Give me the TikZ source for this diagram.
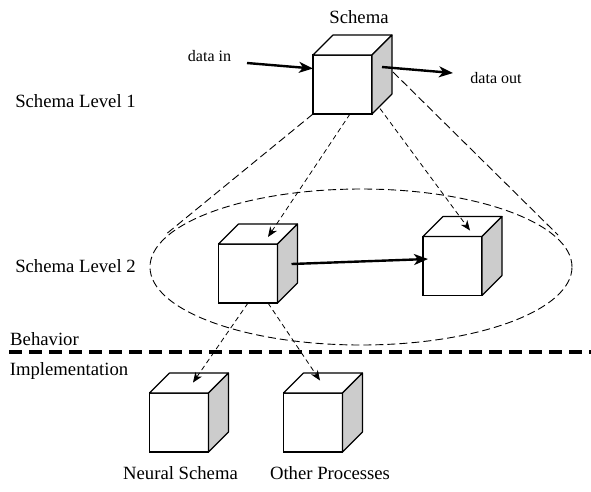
\documentclass[tikz,border=0pt]{standalone}
\usepackage{fontspec}
\setmainfont{Liberation Serif}
\usetikzlibrary{arrows.meta}

\tikzset{
  cube/.style={draw, fill=white, line width=1.1pt, minimum width=59pt,
    minimum height=59pt, inner sep=0pt, outer sep=0pt},
  level/.style={font=\fontsize{18.7}{22}\selectfont, inner sep=0pt},
  port/.style={font=\fontsize{16}{19}\selectfont, inner sep=0pt},
  flow/.style={line width=2.4pt, -{Stealth[length=14pt,width=11pt,inset=4pt]}},
  refine/.style={line width=0.8pt, dash pattern=on 5pt off 3.5pt,
    -{Stealth[length=10pt,width=8pt,inset=3pt]}},
  cone/.style={line width=0.9pt, dash pattern=on 8pt off 4pt},
}

% top and side faces of a cube, on a front node
\newcommand\cubefaces[1]{
  \draw[line width=1.1pt, line join=round, fill=white]
    (#1.north west) -- ++(20,-20) -- ++(59,0) -- (#1.north east) -- cycle;
  \draw[line width=1.1pt, line join=round, fill=black!20]
    (#1.north east) -- ++(20,-20) -- ++(0,59) -- (#1.south east) -- cycle;
}

\begin{document}
\begin{tikzpicture}[x=1pt,y=-1pt]
  \useasboundingbox (0,0) rectangle (591,491);

  \node[level] (schema) at (359,17) {Schema};
  \node[level] (lvl1) at (75.5,101) {Schema Level 1};
  \node[level] (lvl2) at (75.5,266) {Schema Level 2};
  \node[level] (behav) at (44.5,339) {Behavior};
  \node[level] (impl) at (69,371) {Implementation};
  \node[level] (neurallbl) at (180.5,473) {Neural Schema};
  \node[level] (otherlbl) at (330,473) {Other Processes};
  \node[port] (datain) at (209.5,56) {data in};
  \node[port] (dataout) at (496,78) {data out};

  % level 2 grouping
  \draw[cone] (361,267) ellipse[x radius=211pt, y radius=78pt];

  \node[cube] (top) at (342.5,84.5) {};
  \cubefaces{top}
  \node[cube] (left) at (248,273.5) {};
  \cubefaces{left}
  \node[cube] (right) at (452.5,266) {};
  \cubefaces{right}
  \node[cube] (neural) at (179,422.5) {};
  \cubefaces{neural}
  \node[cube] (other) at (313,422.5) {};
  \cubefaces{other}

  \coordinate (in) at (247,63);
  \coordinate (out) at (453,73);
  \coordinate (conel) at (165,235);
  \coordinate (coner) at (558,235);
  \coordinate (conet) at (393,72);

  \draw[cone] (top.south west) to (conel);
  \draw[cone] (conet) to (coner);

  \draw[flow] (in) to ([yshift=16pt]top.west);
  \draw[flow] ([xshift=10pt,yshift=17.5pt]top.east) to (out);
  \draw[flow] ([xshift=14pt,yshift=9.5pt]left.east) to ([xshift=5pt,yshift=7pt]right.west);

  \draw[refine] ([xshift=7.5pt]top.south) to ([xshift=20pt,yshift=7pt]left.north);
  \draw[refine] ([xshift=8pt,yshift=-24pt]top.east) to ([xshift=17.5pt,yshift=6pt]right.north);
  \draw[refine] (left.south) to ([xshift=14pt,yshift=10.5pt]neural.north);
  \draw[refine] ([xshift=20pt]left.south) to ([xshift=7pt,yshift=12.5pt]other.north);

  \draw[line width=4pt, dash pattern=on 13pt off 7pt] (9,352) -- (591,352);
\end{tikzpicture}
\end{document}
